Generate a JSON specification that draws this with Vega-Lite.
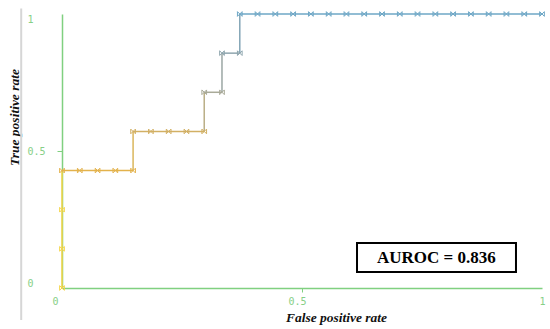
{
  "$schema": "https://vega.github.io/schema/vega-lite/v6.json",
  "autosize": "none",
  "width": 480,
  "height": 274,
  "padding": {"left": 62, "top": 14, "right": 8, "bottom": 41},
  "background": "white",
  "config": {"view": {"stroke": null}, "axis": {"grid": false}},
  "datasets": {
    "segments": [
      {"fpr": 0, "tpr": 0, "fpr2": 0, "tpr2": 0.4286, "seg": "s1"},
      {"fpr": 0, "tpr": 0.4286, "fpr2": 0.1481, "tpr2": 0.4286, "seg": "s2"},
      {"fpr": 0.1481, "tpr": 0.4286, "fpr2": 0.1481, "tpr2": 0.5714, "seg": "s3"},
      {"fpr": 0.1481, "tpr": 0.5714, "fpr2": 0.2963, "tpr2": 0.5714, "seg": "s4"},
      {"fpr": 0.2963, "tpr": 0.5714, "fpr2": 0.2963, "tpr2": 0.7143, "seg": "s5"},
      {"fpr": 0.2963, "tpr": 0.7143, "fpr2": 0.3333, "tpr2": 0.7143, "seg": "s6"},
      {"fpr": 0.3333, "tpr": 0.7143, "fpr2": 0.3333, "tpr2": 0.8571, "seg": "s7"},
      {"fpr": 0.3333, "tpr": 0.8571, "fpr2": 0.3704, "tpr2": 0.8571, "seg": "s8"},
      {"fpr": 0.3704, "tpr": 0.8571, "fpr2": 0.3704, "tpr2": 1, "seg": "s9"},
      {"fpr": 0.3704, "tpr": 1, "fpr2": 1, "tpr2": 1, "seg": "s10"}
    ],
    "points": [
      {"fpr": 0, "tpr": 0, "seg": "s1"},
      {"fpr": 0, "tpr": 0.1429, "seg": "s1"},
      {"fpr": 0, "tpr": 0.2857, "seg": "s1"},
      {"fpr": 0, "tpr": 0.4286, "seg": "s2"},
      {"fpr": 0.037, "tpr": 0.4286, "seg": "s2"},
      {"fpr": 0.0741, "tpr": 0.4286, "seg": "s2"},
      {"fpr": 0.1111, "tpr": 0.4286, "seg": "s2"},
      {"fpr": 0.1481, "tpr": 0.4286, "seg": "s2"},
      {"fpr": 0.1481, "tpr": 0.5714, "seg": "s4"},
      {"fpr": 0.1852, "tpr": 0.5714, "seg": "s4"},
      {"fpr": 0.2222, "tpr": 0.5714, "seg": "s4"},
      {"fpr": 0.2593, "tpr": 0.5714, "seg": "s4"},
      {"fpr": 0.2963, "tpr": 0.5714, "seg": "s4"},
      {"fpr": 0.2963, "tpr": 0.7143, "seg": "s6"},
      {"fpr": 0.3333, "tpr": 0.7143, "seg": "s6"},
      {"fpr": 0.3333, "tpr": 0.8571, "seg": "s8"},
      {"fpr": 0.3704, "tpr": 0.8571, "seg": "s8"},
      {"fpr": 0.3704, "tpr": 1, "seg": "s10"},
      {"fpr": 0.4074, "tpr": 1, "seg": "s10"},
      {"fpr": 0.4444, "tpr": 1, "seg": "s10"},
      {"fpr": 0.4815, "tpr": 1, "seg": "s10"},
      {"fpr": 0.5185, "tpr": 1, "seg": "s10"},
      {"fpr": 0.5556, "tpr": 1, "seg": "s10"},
      {"fpr": 0.5926, "tpr": 1, "seg": "s10"},
      {"fpr": 0.6296, "tpr": 1, "seg": "s10"},
      {"fpr": 0.6667, "tpr": 1, "seg": "s10"},
      {"fpr": 0.7037, "tpr": 1, "seg": "s10"},
      {"fpr": 0.7407, "tpr": 1, "seg": "s10"},
      {"fpr": 0.7778, "tpr": 1, "seg": "s10"},
      {"fpr": 0.8148, "tpr": 1, "seg": "s10"},
      {"fpr": 0.8519, "tpr": 1, "seg": "s10"},
      {"fpr": 0.8889, "tpr": 1, "seg": "s10"},
      {"fpr": 0.9259, "tpr": 1, "seg": "s10"},
      {"fpr": 0.963, "tpr": 1, "seg": "s10"},
      {"fpr": 1, "tpr": 1, "seg": "s10"}
    ],
    "frame": [
      {"fpr": -0.085, "tpr": 1.02, "tpr2": -0.117}
    ],
    "box": [
      {"fpr": 0.6146, "tpr": 0.1642, "fpr2": 0.9458, "tpr2": 0.0584}
    ],
    "label": [
      {"fpr": 0.78, "tpr": 0.1113, "text": "AUROC = 0.836"}
    ]
  },
  "encoding": {
    "x": {
      "field": "fpr",
      "type": "quantitative",
      "scale": {"domain": [0, 1], "nice": false, "zero": false},
      "axis": {
        "title": "False positive rate",
        "titleFont": "Liberation Serif",
        "titleFontSize": 13.5,
        "titleFontWeight": "bold",
        "titleFontStyle": "italic",
        "titleColor": "#111111",
        "titleX": 274,
        "titleY": 33,
        "titleAlign": "center",
        "titleBaseline": "alphabetic",
        "values": [0, 0.5, 1],
        "format": "~g",
        "domainColor": "#80d080",
        "domainWidth": 1.5,
        "tickColor": {"condition": {"test": "datum.value == 0.5", "value": "#80d080"}, "value": "transparent"},
        "tickSize": 4,
        "labelColor": "#86cf86",
        "labelFont": "DejaVu Sans Mono",
        "labelFontSize": 10,
        "labelPadding": 4,
        "labelFlush": false,
        "labelOffset": {"condition": [{"test": "datum.value == 0", "value": -7}, {"test": "datum.value == 0.5", "value": -5}], "value": 0}
      }
    },
    "y": {
      "field": "tpr",
      "type": "quantitative",
      "scale": {"domain": [0, 1], "nice": false, "zero": false},
      "axis": {
        "title": "True positive rate",
        "titleFont": "Liberation Serif",
        "titleFontSize": 13.5,
        "titleFontWeight": "bold",
        "titleFontStyle": "italic",
        "titleColor": "#111111",
        "titleX": -44,
        "titleY": 103,
        "titleAlign": "center",
        "titleBaseline": "alphabetic",
        "values": [0, 0.5, 1],
        "format": "~g",
        "domainColor": "#80d080",
        "domainWidth": 1.5,
        "tickColor": {"condition": {"test": "datum.value == 0.5", "value": "#80d080"}, "value": "transparent"},
        "tickSize": 5,
        "labelColor": "#86cf86",
        "labelFont": "DejaVu Sans Mono",
        "labelFontSize": 10,
        "labelAlign": "left",
        "labelPadding": 30,
        "labelFlush": true
      }
    }
  },
  "layer": [
    {
      "data": {"name": "frame"},
      "mark": {"type": "rule", "color": "#d6d6d6", "strokeWidth": 2},
      "encoding": {"y2": {"field": "tpr2"}}
    },
    {
      "data": {"name": "segments"},
      "mark": {"type": "rule", "strokeWidth": 1.5},
      "encoding": {
        "x2": {"field": "fpr2"},
        "y2": {"field": "tpr2"},
        "color": {
          "field": "seg",
          "type": "nominal",
          "legend": null,
          "scale": {
            "domain": ["s1", "s2", "s3", "s4", "s5", "s6", "s7", "s8", "s9", "s10"],
            "range": ["#f5d547", "#e3b24c", "#dab65c", "#d2b064", "#baae86", "#a9aa98", "#9ba7a4", "#8fa6ae", "#83a5b6", "#6ea7c6"]
          }
        }
      }
    },
    {
      "data": {"name": "points"},
      "mark": {"type": "point", "shape": "M-1,-1L1,1M-1,1L1,-1M-1,-1L-1,1M1,-1L1,1", "size": 22, "strokeWidth": 1, "filled": false, "opacity": 1},
      "encoding": {
        "color": {"field": "seg", "type": "nominal", "legend": null}
      }
    },
    {
      "data": {"name": "box"},
      "mark": {"type": "rect", "fill": "white", "stroke": "#000000", "strokeWidth": 2},
      "encoding": {"x2": {"field": "fpr2"}, "y2": {"field": "tpr2"}}
    },
    {
      "data": {"name": "label"},
      "mark": {"type": "text", "font": "Liberation Serif", "fontSize": 17, "fontWeight": "bold", "color": "#000000", "align": "center", "baseline": "middle"},
      "encoding": {"text": {"field": "text", "type": "nominal"}}
    }
  ]
}
